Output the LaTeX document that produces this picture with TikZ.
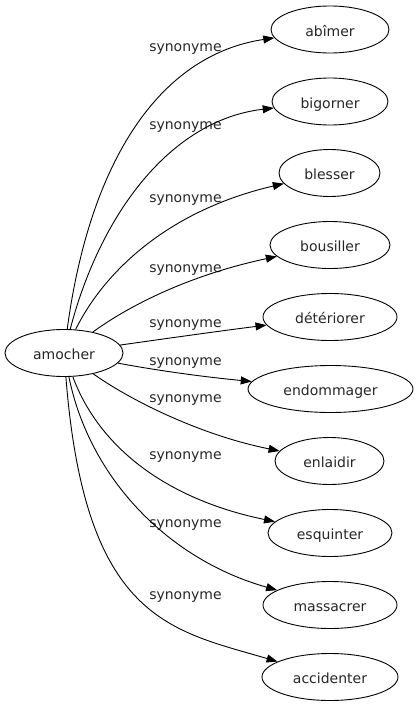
\documentclass[tikz,border=0pt]{standalone}
\usepackage{fontspec}
\setmainfont{DejaVu Sans}
\usetikzlibrary{shapes.geometric,arrows.meta}
\begin{document}
\begin{tikzpicture}[x=1pt,y=-1pt,
  font=\fontsize{14pt}{16pt}\selectfont,
  word/.style={draw, ellipse, line width=0.9pt, inner sep=0pt,
    minimum height=47pt, text height=13pt, text depth=0pt, text=black!85},
  lbl/.style={anchor=base, inner sep=0pt, text=black!85},
  syn/.style={line width=0.9pt, -{Triangle[length=11pt,width=8pt]}}]
\useasboundingbox (0,0) rectangle (417,707);
\node[word, minimum width=118pt] (amocher) at (64,353) {amocher};
\node[word, minimum width=118pt] (abimer) at (330,29.5) {abîmer};
\node[word, minimum width=116pt] (bigorner) at (330,101.5) {bigorner};
\node[word, minimum width=101pt] (blesser) at (329.5,173) {blesser};
\node[word, minimum width=120pt] (bousiller) at (330,245) {bousiller};
\node[word, minimum width=134pt] (deteriorer) at (330,317) {détériorer};
\node[word, minimum width=165pt] (endommager) at (330.5,389) {endommager};
\node[word, minimum width=109pt] (enlaidir) at (329.5,461) {enlaidir};
\node[word, minimum width=124pt] (esquinter) at (330,533) {esquinter};
\node[word, minimum width=134pt] (massacrer) at (330,605) {massacrer};
\node[word, minimum width=136pt] (accidenter) at (330,677) {accidenter};
\node[lbl] (l1) at (185.5,51.5) {synonyme};
\node[lbl] (l2) at (185.5,129.5) {synonyme};
\node[lbl] (l3) at (185.5,202.5) {synonyme};
\node[lbl] (l4) at (185.5,272) {synonyme};
\node[lbl] (l5) at (185.5,327) {synonyme};
\node[lbl] (l6) at (185.5,365.5) {synonyme};
\node[lbl] (l7) at (185.5,402) {synonyme};
\node[lbl] (l8) at (185.5,459) {synonyme};
\node[lbl] (l9) at (185.5,527) {synonyme};
\node[lbl] (l10) at (185.5,599.5) {synonyme};
\draw[syn] (amocher) .. controls (90,160) and (160,55) .. (abimer);
\draw[syn] (amocher) .. controls (100,215) and (170,120) .. (bigorner);
\draw[syn] (amocher) .. controls (105,270) and (170,210) .. (blesser);
\draw[syn] (amocher) .. controls (130,305) and (190,275) .. (bousiller);
\draw[syn] (amocher) .. controls (170,338) and (220,331) .. (deteriorer);
\draw[syn] (amocher) .. controls (160,371) and (205,377) .. (endommager);
\draw[syn] (amocher) .. controls (130,400) and (200,435) .. (enlaidir);
\draw[syn] (amocher) .. controls (100,450) and (170,500) .. (esquinter);
\draw[syn] (amocher) .. controls (90,480) and (170,560) .. (massacrer);
\draw[syn] (amocher) .. controls (85,620) and (170,630) .. (accidenter);
\end{tikzpicture}
\end{document}
